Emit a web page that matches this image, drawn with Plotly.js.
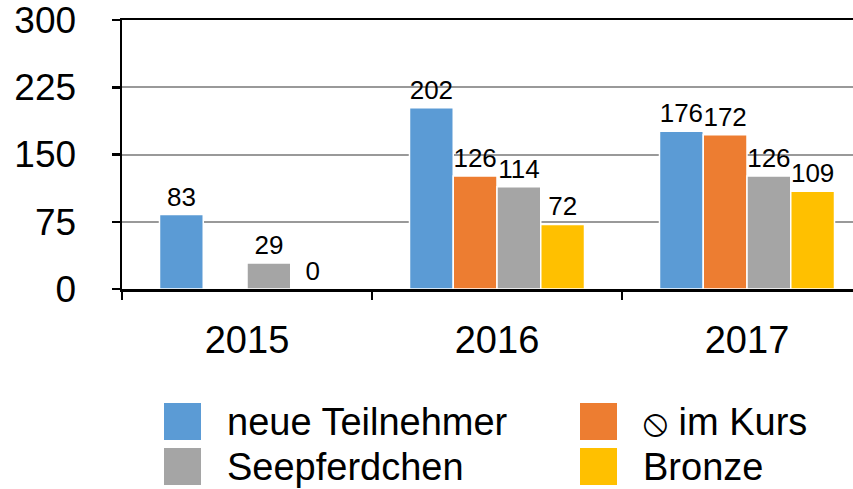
<!DOCTYPE html>
<html><head><meta charset="utf-8">
<script src="https://cdn.plot.ly/plotly-3.0.1.min.js"></script>
<style>html,body{margin:0;padding:0;background:#fff}#chart{width:853px;height:489px}</style>
</head><body><div id="chart"></div>
<script>
const years = ["2015", "2016", "2017"];
const seriesNames = ["neue Teilnehmer", "⦸ im Kurs", "Seepferdchen", "Bronze"];
const seriesColors = ["#5B9BD5", "#ED7D31", "#A5A5A5", "#FFC000"];
const neueTeilnehmer = [83, 202, 176];
const imKurs = [null, 126, 172];
const seepferdchen = [29, 114, 126];
const bronze = [0, 72, 109];
const yTicks = [0, 75, 150, 225, 300];

const values = [neueTeilnehmer, imKurs, seepferdchen, bronze];
const FONT = "Liberation Sans, Arial, Helvetica, sans-serif";

const traces = values.map((v, i) => ({
  type: "bar", x: years, y: v, name: seriesNames[i],
  marker: {color: seriesColors[i], line: {color: "#ffffff", width: 1.5}},
  text: v.map(d => d === null ? "" : String(d)),
  textposition: "outside", constraintext: "none", cliponaxis: false,
  textfont: {family: FONT, size: 26, color: "#000"},
  hoverinfo: "skip"
}));

// layout geometry
const W = 853, H = 489, L = 122, T = 20, B = 200, R = 0;
const PW = W - L - R, PH = H - T - B;
const px = x => (x - L) / PW;
const py = y => (H - B - y) / PH;

const shapes = [], annotations = [];
const legPos = [
  {sx: 164, ty: 403, tx: 225},
  {sx: 580, ty: 403, tx: 641},
  {sx: 164, ty: 448, tx: 225},
  {sx: 580, ty: 448, tx: 641}
];
seriesNames.forEach((n, i) => {
  const p = legPos[i];
  shapes.push({type: "rect", xref: "paper", yref: "paper",
    x0: px(p.sx), x1: px(p.sx + 37), y0: py(p.ty), y1: py(p.ty + 37),
    fillcolor: seriesColors[i], line: {width: 0}});
  annotations.push({xref: "paper", yref: "paper", x: px(p.tx), y: py(p.ty + 19),
    xanchor: "left", yanchor: "middle", showarrow: false, text: n,
    font: {family: FONT, size: 38, color: "#000"}});
});

const layout = {
  width: W, height: H,
  margin: {l: L, r: R, t: T, b: B, pad: 0},
  paper_bgcolor: "#fff", plot_bgcolor: "#fff",
  showlegend: false,
  barmode: "group", bargap: 0.3, bargroupgap: 0,
  font: {family: FONT, color: "#000"},
  xaxis: {
    type: "category", range: [-0.5, -0.5 + PW / 250],
    showline: true, linecolor: "#000", linewidth: 2.5, mirror: true,
    ticks: "outside", tickson: "boundaries", ticklen: 8, tickwidth: 2.5, tickcolor: "#000",
    tickfont: {family: FONT, size: 38, color: "#000"}, ticklabelstandoff: 16,
    ticklabeloverflow: "allow",
    showgrid: false, zeroline: false
  },
  yaxis: {
    range: [0, 300], tickvals: yTicks, ticktext: yTicks.map(String),
    showline: true, linecolor: "#000", linewidth: 2.5,
    ticks: "outside", ticklen: 8, tickwidth: 2.5, tickcolor: "#000",
    tickfont: {family: FONT, size: 37, color: "#000"}, ticklabelstandoff: 28,
    ticklabeloverflow: "allow",
    showgrid: true, gridcolor: "#999999", gridwidth: 2, zeroline: false
  },
  shapes: shapes, annotations: annotations
};

Plotly.newPlot("chart", traces, layout, {staticPlot: true, displayModeBar: false});
</script></body></html>
